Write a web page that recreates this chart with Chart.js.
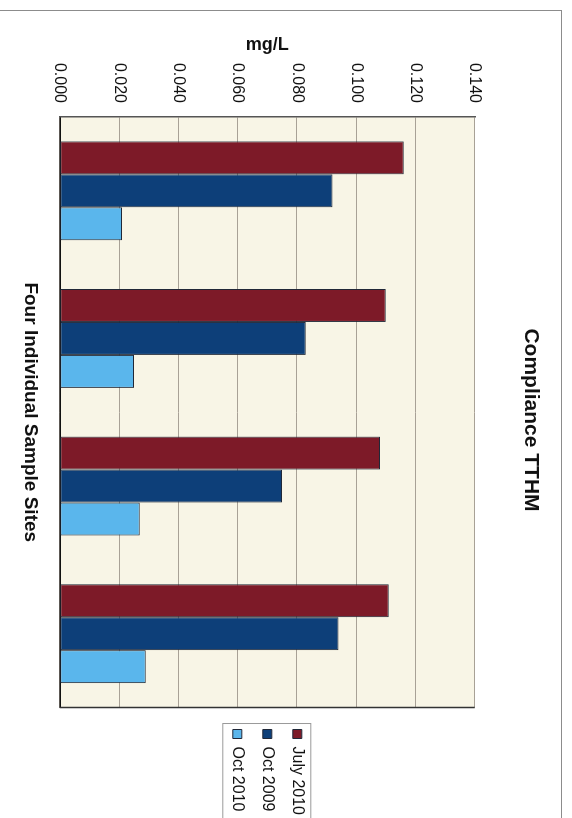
<!DOCTYPE html>
<html>
<head>
<meta charset="utf-8">
<script src="https://cdn.jsdelivr.net/npm/chart.js@4"></script>
<style>
  html, body { margin: 0; padding: 0; background: #fff; overflow: hidden; width: 572px; height: 818px; }
  /* the chart is laid out landscape and turned a quarter turn clockwise onto the page */
  #turn { position: absolute; left: 0; top: 0; width: 840px; height: 572px;
          transform-origin: 0 0; transform: translate(572px, 0) rotate(90deg); }
  #frame { position: absolute; left: 10px; top: 10px; width: 900px; height: 600px;
           border-left: 1.5px solid #8c8c8c; border-top: 1.5px solid #8c8c8c; }
  canvas { position: absolute; left: 0; top: 0; }
</style>
</head>
<body>
<div id="turn">
  <div id="frame"></div>
  <canvas id="c" width="840" height="572"></canvas>
</div>
<script>
// Sample sites and TTHM results (mg/L)
const sites = ['Site 1', 'Site 2', 'Site 3', 'Site 4'];
const seriesNames = ['July 2010', 'Oct 2009', 'Oct 2010'];
const july2010 = [0.116, 0.110, 0.108, 0.111];
const oct2009  = [0.092, 0.083, 0.075, 0.094];
const oct2010  = [0.021, 0.025, 0.027, 0.029];
// value axis range and tick step
const axisMin = 0;
const axisMax = 0.14;
const axisStep = 0.02;

const seriesColors = ['#7d1a28', '#0d3f79', '#5ab6ec'];

Chart.defaults.font.family = "'Liberation Sans', Arial, sans-serif";
Chart.defaults.color = '#111';

// cream plot background, dark right edge and a box around the legend
const plotFrame = {
  id: 'plotFrame',
  beforeDraw(chart) {
    const { ctx, chartArea: a } = chart;
    ctx.save();
    ctx.fillStyle = '#f8f5e6';
    ctx.fillRect(a.left, a.top, a.right - a.left, a.bottom - a.top);
    ctx.restore();
  },
  afterDraw(chart) {
    const { ctx, chartArea: a, legend } = chart;
    ctx.save();
    ctx.strokeStyle = '#333';
    ctx.lineWidth = 1.5;
    ctx.beginPath();
    ctx.moveTo(a.right, a.top);
    ctx.lineTo(a.right, a.bottom);
    ctx.stroke();
    const boxes = legend.legendHitBoxes;
    if (boxes && boxes.length) {
      const left = Math.min(...boxes.map(b => b.left)) - 6;
      const top = Math.min(...boxes.map(b => b.top)) - 5.5;
      const bottom = Math.max(...boxes.map(b => b.top + b.height)) + 6.5;
      ctx.strokeStyle = '#9a9a9a';
      ctx.lineWidth = 1;
      ctx.strokeRect(left, top, chart.width + 20 - left, bottom - top);
    }
    ctx.restore();
  }
};

const seriesValues = [july2010, oct2009, oct2010];

new Chart(document.getElementById('c'), {
  type: 'bar',
  data: {
    labels: sites,
    datasets: seriesNames.map((name, i) => ({
      label: name,
      data: seriesValues[i],
      backgroundColor: seriesColors[i],
      borderColor: '#202838',
      borderWidth: 1,
      borderSkipped: false,
      barPercentage: 1,
      categoryPercentage: 0.67
    }))
  },
  options: {
    responsive: false,
    devicePixelRatio: 1,
    animation: false,
    layout: { padding: { left: 15, right: 15, top: 0, bottom: 0 } },
    plugins: {
      title: {
        display: true,
        text: 'Compliance TTHM',
        font: { size: 21, weight: 'bold' },
        color: '#111',
        padding: { top: 29, bottom: 43 }
      },
      legend: {
        position: 'right',
        fullSize: false,
        labels: { boxWidth: 9, boxHeight: 9, padding: 14, font: { size: 16 }, color: '#111' }
      },
      tooltip: { enabled: false }
    },
    scales: {
      x: {
        grid: { display: false, drawTicks: false },
        ticks: { display: false },
        border: { color: '#111', width: 1.5 },
        title: {
          display: true,
          text: 'Four Individual Sample Sites',
          font: { size: 19, weight: 'bold' },
          color: '#111',
          padding: { top: 18, bottom: 19 }
        }
      },
      y: {
        min: axisMin,
        max: axisMax,
        ticks: {
          stepSize: axisStep,
          padding: 14,
          font: { size: 16 },
          color: '#111',
          callback: v => v.toFixed(3)
        },
        grid: { color: '#a8a196', drawTicks: false },
        border: { color: '#555', width: 1.5 },
        title: {
          display: true,
          text: 'mg/L',
          font: { size: 18, weight: 'bold' },
          color: '#111',
          padding: { top: 19, bottom: 6 }
        },
        afterFit(scale) { scale.width = 102; }
      },
      // narrow empty strip between the plot and the legend
      gap: {
        type: 'linear',
        position: 'right',
        display: true,
        grid: { display: false },
        ticks: { display: false },
        border: { display: false },
        afterFit(scale) { scale.width = 8; }
      }
    }
  },
  plugins: [plotFrame]
});
</script>
</body>
</html>
